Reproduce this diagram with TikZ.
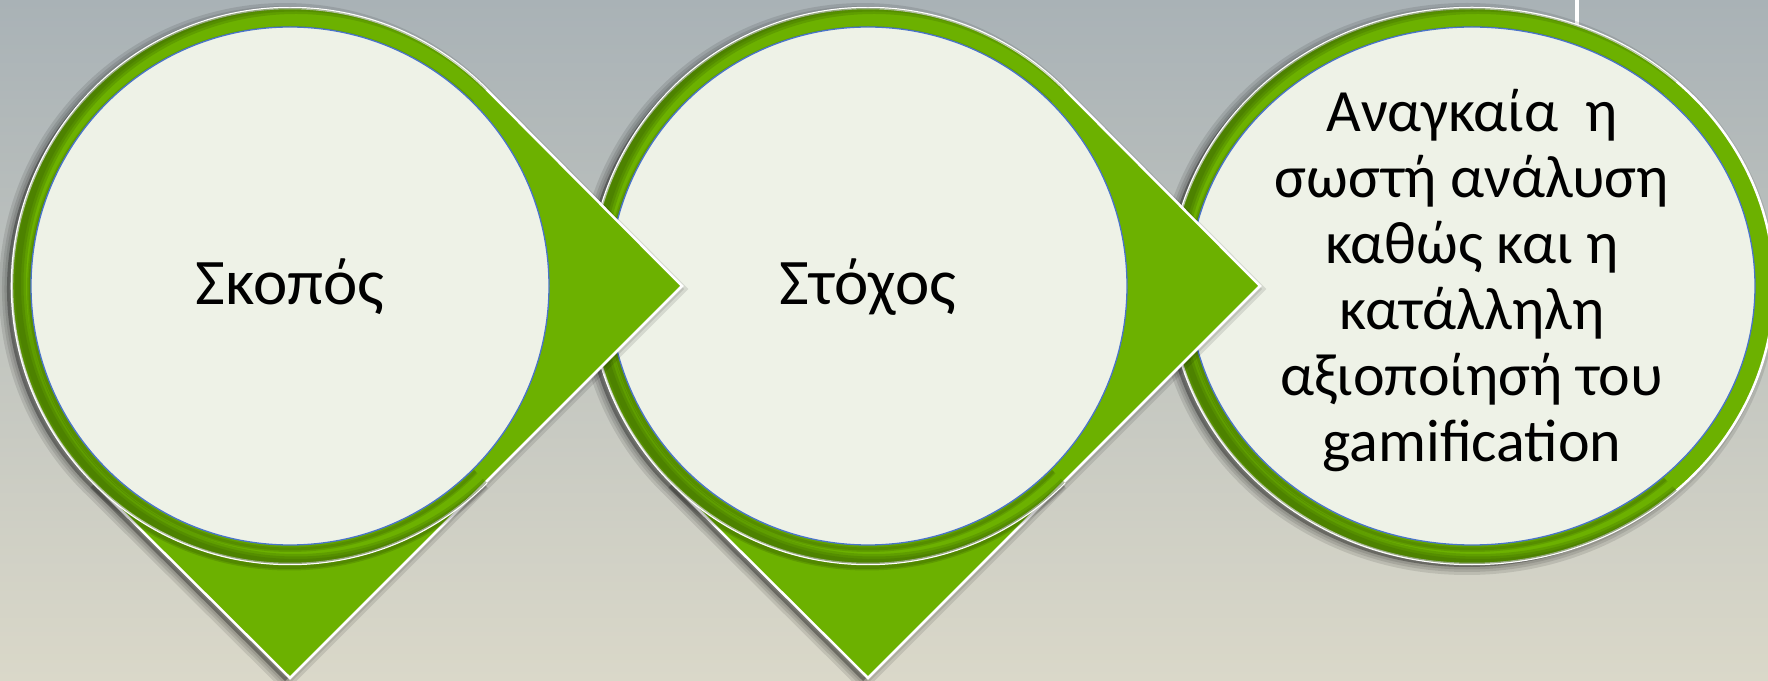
\documentclass[tikz,border=0pt]{standalone}
\usepackage{fontspec}
\setmainfont{Carlito}
\definecolor{bgtop}{HTML}{A9B2B6}
\definecolor{bgmid}{HTML}{C3C5B7}
\definecolor{bgbot}{HTML}{DAD8C9}
\definecolor{leaf}{HTML}{6CB100}
\definecolor{leafdark}{HTML}{2F5200}
\definecolor{disk}{HTML}{EEF2E7}
\definecolor{rim}{HTML}{4A74C9}
\tikzset{
  greenshape/.style={fill=leaf, draw=white, line width=2.5pt, line join=miter},
  shadowfill/.style={fill=black, fill opacity=0.30},
  shadowline/.style={draw=black, draw opacity=0.10},
  diskshape/.style={fill=disk, draw=rim, line width=1.3pt},
  label/.style={text=black, inner sep=0pt, align=center},
  bigtext/.style={font=\fontsize{65}{72}\selectfont},
  smalltext/.style={font=\fontsize{60}{66}\selectfont},
}
% teardrop: circle of radius 278 plus a 45-degree corner pointing right and down
\newcommand{\mytear}[3]{%
  \path[#1, shift={(#2,#3)}] (196.6,196.6) -- (392,0) -- (0,-392) -- (-196.6,-196.6)
    arc[start angle=225, end angle=45, radius=278] -- cycle;}
\newcommand{\mytearshadow}[2]{%
  \foreach \w in {16,10,5}{\mytear{shadowline, line width=\w}{#1-5}{#2-3}}
  \mytear{shadowfill}{#1-5}{#2-3}}
% clip to everything except the wedge on the right (between -45 and 45 degrees)
\newcommand{\mywedgeclip}[2]{%
  \clip (#1,#2) -- (#1+420,#2-420) -- (#1-420,#2-420) -- (#1-420,#2+420) -- (#1+420,#2+420) -- cycle;}
\newcommand{\myring}[2]{%
  \begin{scope}
    \clip (#1,#2) circle[radius=278];
    \mywedgeclip{#1}{#2}
    \foreach \w in {16,11,6}{
      \draw[leafdark, opacity=0.2, line width=\w] (#1+6,#2+2) circle[radius=278];}
    \foreach \w in {6,3}{
      \draw[black, opacity=0.10, line width=\w] (#1,#2-3) circle[radius=260];}
  \end{scope}}
\newcommand{\mybottomarc}[2]{%
  \foreach \w in {7,4}{
    \draw[black, opacity=0.12, line width=\w] ([shift={(225:278)}]#1-1,#2-3) arc[start angle=225, end angle=315, radius=278];}
  \draw[white, line width=2.5pt] ([shift={(225:278)}]#1,#2) arc[start angle=225, end angle=315, radius=278];}
\begin{document}
\begin{tikzpicture}[x=1pt,y=1pt]
\useasboundingbox (0,0) rectangle (1768,680);
\shade[top color=bgtop, middle color=bgmid, bottom color=bgbot] (0,0) rectangle (1768,680);
\draw[white, line width=4pt] (1577,680) -- (1577,652);

% ---- third shape: ellipse ----
\foreach \w in {16,10,5}{
  \path[shadowline, line width=\w] (1467,391) ellipse[x radius=302, y radius=278];}
\path[shadowfill] (1467,391) ellipse[x radius=302, y radius=278];
\path[greenshape] (1472,394) ellipse[x radius=302, y radius=278];
\begin{scope}
  \clip (1472,394) ellipse[x radius=302, y radius=278];
  \mywedgeclip{1472}{394}
  \foreach \w in {16,11,6}{
    \draw[leafdark, opacity=0.2, line width=\w] (1478,396) ellipse[x radius=302, y radius=278];}
  \foreach \w in {6,3}{
    \draw[black, opacity=0.10, line width=\w] (1472,391) ellipse[x radius=284, y radius=260];}
\end{scope}
\path[diskshape] (1472,394) ellipse[x radius=283, y radius=259];
\node[label, smalltext] (t3) at (1472,399)
  {Αναγκαία~~η\\σωστή ανάλυση\\καθώς και η\\κατάλληλη\\αξιοποίησή του\\gamification};

% ---- second shape ----
\mytearshadow{868}{394}
\mytear{greenshape}{868}{394}
\mybottomarc{868}{394}
\myring{868}{394}
\path[diskshape] (868,394) circle[radius=259];
\node[label, bigtext, anchor=base] (t2) at (868,375) {Στόχος};

% ---- first shape ----
\mytearshadow{290}{394}
\mytear{greenshape}{290}{394}
\mybottomarc{290}{394}
\myring{290}{394}
\path[diskshape] (290,394) circle[radius=259];
\node[label, bigtext, anchor=base] (t1) at (290,375) {Σκοπός};
\end{tikzpicture}
\end{document}
